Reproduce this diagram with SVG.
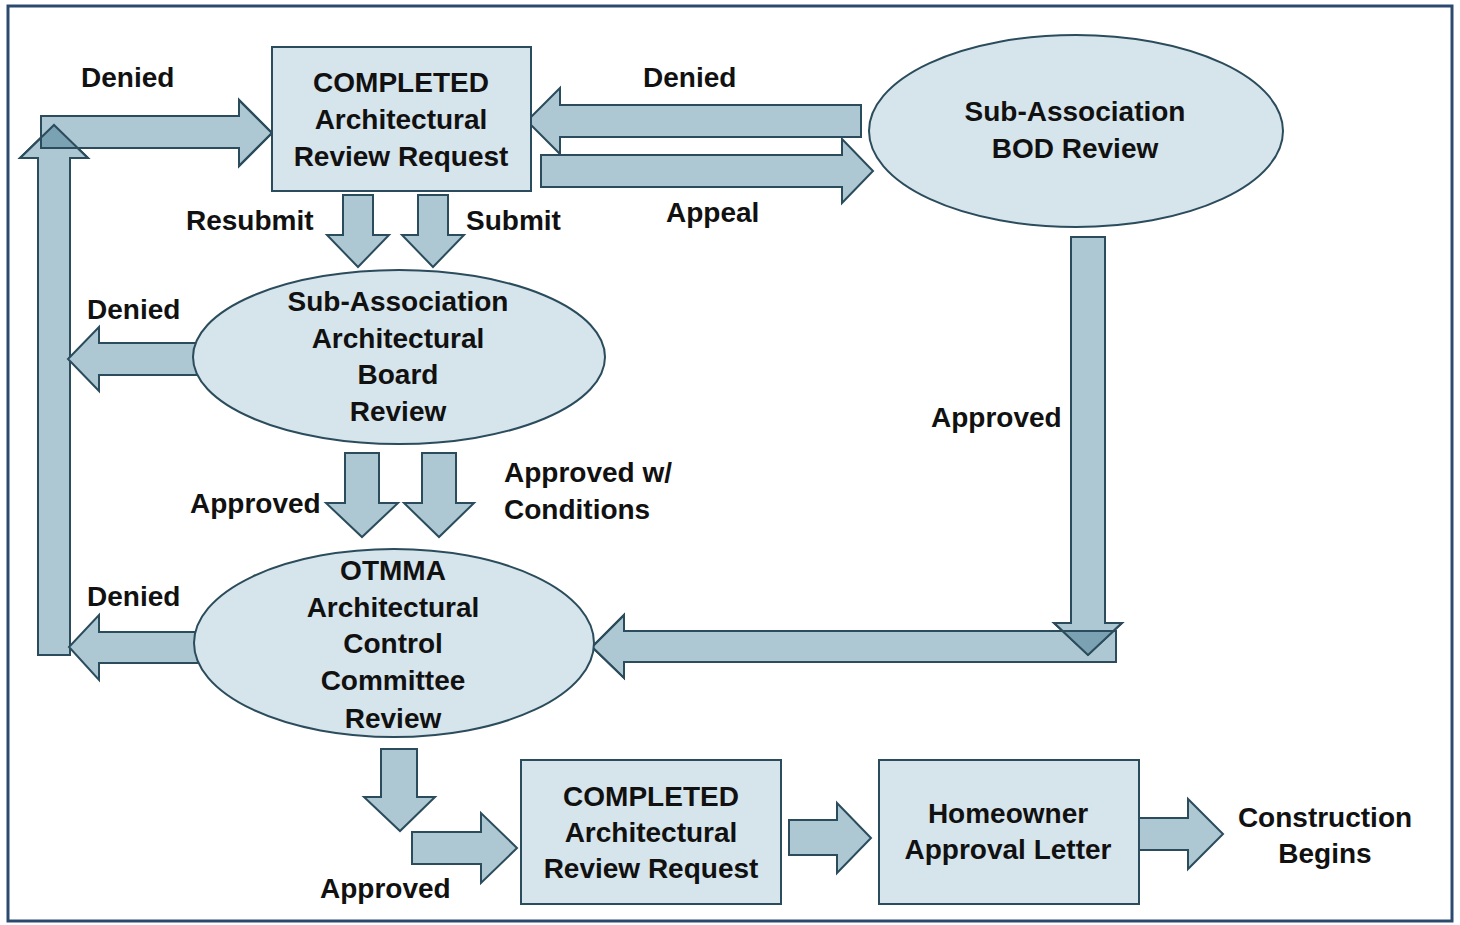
<svg xmlns="http://www.w3.org/2000/svg" width="1460" height="925" viewBox="0 0 1460 925">
<style>
.frame{fill:#ffffff;stroke:#2c4a6e;stroke-width:3}
.node{fill:#d6e4eb;stroke:#2b4c5c;stroke-width:2}
.arr{fill:#adc7d3;stroke:#2b4c5c;stroke-width:2;stroke-linejoin:miter}
.ovl{fill:#7ba2b2;stroke:none}
.out{fill:none;stroke:#2b4c5c;stroke-width:2}
text{font-family:"Liberation Sans",Arial,sans-serif;font-weight:bold;font-size:28px;fill:#111111}
.c{text-anchor:middle}
</style>
<rect class="frame" x="8" y="6" width="1444" height="915"/>
<g id="connectors">
  <!-- up arrow left side -->
  <polygon class="arr" points="38,655 38,158 20,158 54,125 88,158 70,158 70,655"/>
  <!-- top-left denied -->
  <polygon class="arr" points="41,116 239,116 239,100 272,133 239,166 239,148 41,148"/>
  <polygon class="ovl" points="54,125 77,148 41,148 41,137.6"/>
  <polygon class="out" points="38,655 38,158 20,158 54,125 88,158 70,158 70,655"/>
  <polygon class="out" points="41,116 239,116 239,100 272,133 239,166 239,148 41,148"/>
  <!-- denied from BOD -->
  <polygon class="arr" points="861,105 560,105 560,88 527,121 560,154 560,137 861,137"/>
  <!-- appeal -->
  <polygon class="arr" points="541,155 842,155 842,139 873,171 842,203 842,187 541,187"/>
  <!-- resubmit / submit -->
  <polygon class="arr" points="343,195 373,195 373,235 389,235 358,267 327,235 343,235"/>
  <polygon class="arr" points="418,195 448,195 448,235 464,235 433,267 402,235 418,235"/>
  <!-- denied from SA board -->
  <polygon class="arr" points="198,343 99,343 99,327 68,359 99,391 99,375 198,375"/>
  <!-- approved / approved w conditions -->
  <polygon class="arr" points="345,453 379,453 379,503 398,503 362,537 326,503 345,503"/>
  <polygon class="arr" points="422,453 456,453 456,503 474,503 439,537 404,503 422,503"/>
  <!-- denied from OTMMA -->
  <polygon class="arr" points="198,632 99,632 99,615 69,647 99,680 99,663 198,663"/>
  <!-- BOD approved vertical and long left -->
  <polygon class="arr" points="1116,631 624,631 624,615 592,647 624,678 624,662 1116,662"/>
  <polygon class="arr" points="1071,237 1105,237 1105,623 1122,623 1088,655 1054,623 1071,623"/>
  <polygon class="ovl" points="1062.5,631 1113.5,631 1088,655"/>
  <polygon class="out" points="1116,631 624,631 624,615 592,647 624,678 624,662 1116,662"/>
  <polygon class="out" points="1071,237 1105,237 1105,623 1122,623 1088,655 1054,623 1071,623"/>
  <!-- OTMMA approved down then right -->
  <polygon class="arr" points="381,749 417,749 417,797 435,797 400,831 364,797 381,797"/>
  <polygon class="arr" points="412,832 481,832 481,813 517,848 481,883 481,864 412,864"/>
  <!-- box1 -> box2 -->
  <polygon class="arr" points="789,820 837,820 837,803 871,838 837,873 837,855 789,855"/>
  <!-- box2 -> construction -->
  <polygon class="arr" points="1139,818 1188,818 1188,799 1223,834 1188,869 1188,850 1139,850"/>
</g>
<g id="top-request">
  <rect class="node" x="272" y="47" width="259" height="144"/>
  <text class="c" x="401" y="92">COMPLETED</text>
  <text class="c" x="401" y="129">Architectural</text>
  <text class="c" x="401" y="166">Review Request</text>
</g>
<g id="bod-review">
  <ellipse class="node" cx="1076" cy="131" rx="207" ry="96"/>
  <text class="c" x="1075" y="121">Sub-Association</text>
  <text class="c" x="1075" y="158">BOD Review</text>
</g>
<g id="sa-board-review">
  <ellipse class="node" cx="399" cy="357" rx="206" ry="87"/>
  <text class="c" x="398" y="311">Sub-Association</text>
  <text class="c" x="398" y="348">Architectural</text>
  <text class="c" x="398" y="384">Board</text>
  <text class="c" x="398" y="421">Review</text>
</g>
<g id="otmma-review">
  <ellipse class="node" cx="394" cy="643" rx="200" ry="94"/>
  <text class="c" x="393" y="580">OTMMA</text>
  <text class="c" x="393" y="617">Architectural</text>
  <text class="c" x="393" y="653">Control</text>
  <text class="c" x="393" y="690">Committee</text>
  <text class="c" x="393" y="728">Review</text>
</g>
<g id="bottom-request">
  <rect class="node" x="521" y="760" width="260" height="144"/>
  <text class="c" x="651" y="806">COMPLETED</text>
  <text class="c" x="651" y="842">Architectural</text>
  <text class="c" x="651" y="878">Review Request</text>
</g>
<g id="approval-letter">
  <rect class="node" x="879" y="760" width="260" height="144"/>
  <text class="c" x="1008" y="823">Homeowner</text>
  <text class="c" x="1008" y="859">Approval Letter</text>
</g>
<g id="construction">
  <text class="c" x="1325" y="827">Construction</text>
  <text class="c" x="1325" y="863">Begins</text>
</g>
<g id="labels">
  <text x="81" y="87">Denied</text>
  <text x="643" y="87">Denied</text>
  <text x="186" y="230">Resubmit</text>
  <text x="466" y="230">Submit</text>
  <text x="666" y="222">Appeal</text>
  <text x="87" y="319">Denied</text>
  <text x="931" y="427">Approved</text>
  <text x="190" y="513">Approved</text>
  <text x="504" y="482">Approved w/</text>
  <text x="504" y="519">Conditions</text>
  <text x="87" y="606">Denied</text>
  <text x="320" y="898">Approved</text>
</g>
</svg>
